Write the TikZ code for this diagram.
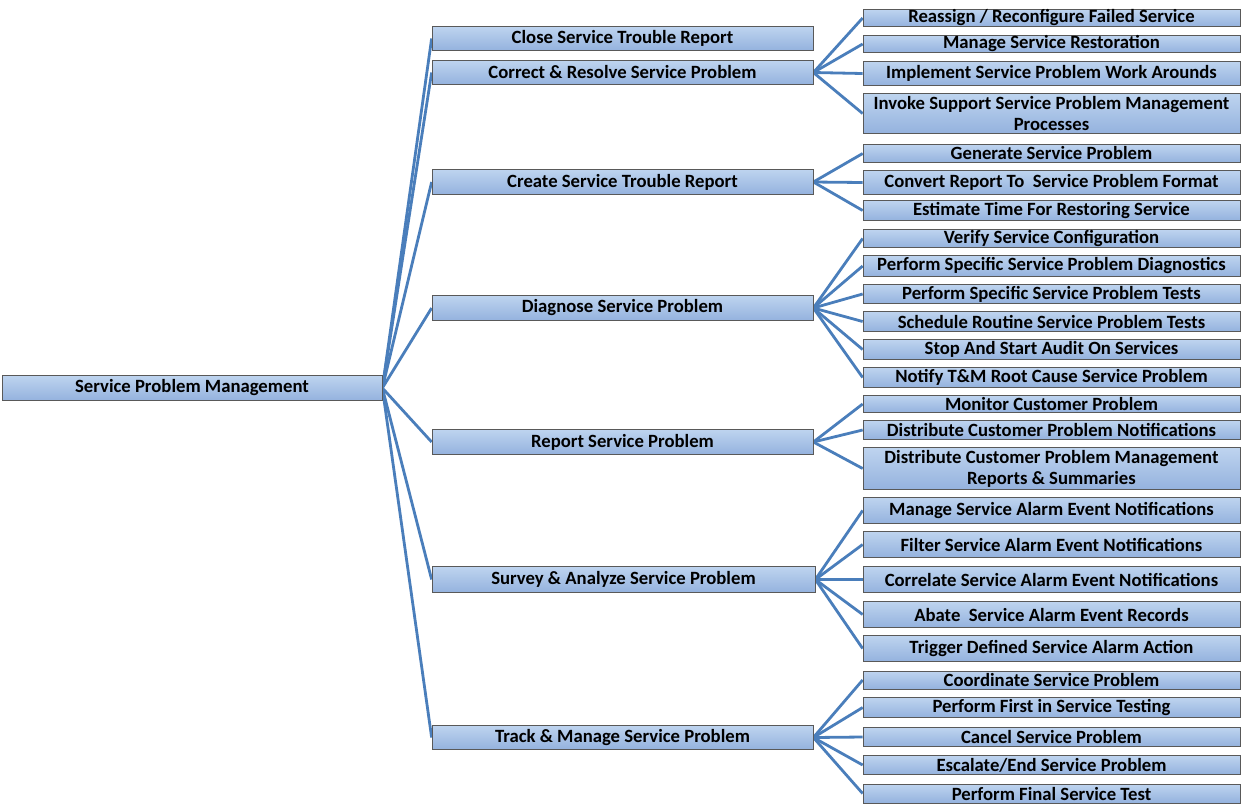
\documentclass[tikz,border=0pt]{standalone}
\usepackage{fontspec}
\setmainfont{Carlito}
\usetikzlibrary{backgrounds}
\begin{document}
\begin{tikzpicture}[x=1pt,y=-1pt,
  box/.style={draw=gray!70!black, line width=0.7pt, top color=boxtop, bottom color=boxbot,
    inner sep=0pt, font=\bfseries\fontsize{18.7}{21}\selectfont, text=black, align=center},
  lone/.style={box, minimum width=381pt},
  ltwo/.style={box, minimum width=377pt},
  link/.style={draw=linkc, line width=2.8pt}]
\definecolor{boxtop}{HTML}{BED4EF}
\definecolor{boxbot}{HTML}{94B2DE}
\definecolor{linkc}{HTML}{4A7EBB}
\useasboundingbox (0,0) rectangle (1241,804);
% root
\node[box, minimum width=380pt, minimum height=25pt] (root) at (192,388) {Service Problem Management};
% level 1
\node[lone, minimum height=24pt] (a) at (622.5,38.5) {Close Service Trouble Report};
\node[lone, minimum height=24pt] (b) at (622.5,72.5) {Correct \& Resolve Service Problem};
\node[lone, minimum height=25pt] (c) at (622.5,182) {Create Service Trouble Report};
\node[lone, minimum height=25pt] (d) at (622.5,308) {Diagnose Service Problem};
\node[lone, minimum height=25pt] (e) at (622.5,442) {Report Service Problem};
\node[box, minimum width=383pt, minimum height=26pt] (f) at (623.5,579.5) {Survey \& Analyze Service Problem};
\node[lone, minimum height=24pt] (g) at (622.5,737.5) {Track \& Manage Service Problem};
% level 2
\node[ltwo, minimum height=17pt] (b1) at (1051.5,18) {Reassign / Reconfigure Failed Service};
\node[ltwo, minimum height=17pt] (b2) at (1051.5,44) {Manage Service Restoration};
\node[ltwo, minimum height=24pt] (b3) at (1051.5,73.5) {Implement Service Problem Work Arounds};
\node[ltwo, minimum height=40pt] (b4) at (1051.5,113.5) {Invoke Support Service Problem Management\\Processes};
\node[ltwo, minimum height=18pt] (c1) at (1051.5,153.5) {Generate Service Problem};
\node[ltwo, minimum height=24pt] (c2) at (1051.5,182.5) {Convert Report To\ \ Service Problem Format};
\node[ltwo, minimum height=20pt] (c3) at (1051.5,210.5) {Estimate Time For Restoring Service};
\node[ltwo, minimum height=18pt] (d1) at (1051.5,238.5) {Verify Service Configuration};
\node[ltwo, minimum height=21pt] (d2) at (1051.5,266) {Perform Specific Service Problem Diagnostics};
\node[ltwo, minimum height=19pt] (d3) at (1051.5,294) {Perform Specific Service Problem Tests};
\node[ltwo, minimum height=20pt] (d4) at (1051.5,321.5) {Schedule Routine Service Problem Tests};
\node[ltwo, minimum height=20pt] (d5) at (1051.5,349.5) {Stop And Start Audit On Services};
\node[ltwo, minimum height=20pt] (d6) at (1051.5,377.5) {Notify T\&M Root Cause Service Problem};
\node[ltwo, minimum height=17pt] (e1) at (1051.5,404) {Monitor Customer Problem};
\node[ltwo, minimum height=19pt] (e2) at (1051.5,430) {Distribute Customer Problem Notifications};
\node[ltwo, minimum height=42pt] (e3) at (1051.5,468.5) {Distribute Customer Problem Management\\Reports \& Summaries};
\node[ltwo, minimum height=26pt] (f1) at (1051.5,510.5) {Manage Service Alarm Event Notifications};
\node[ltwo, minimum height=26pt] (f2) at (1051.5,544.5) {Filter Service Alarm Event Notifications};
\node[ltwo, minimum height=26pt] (f3) at (1051.5,579.5) {Correlate Service Alarm Event Notifications};
\node[ltwo, minimum height=26pt] (f4) at (1051.5,614.5) {Abate\ \ Service Alarm Event Records};
\node[ltwo, minimum height=26pt] (f5) at (1051.5,648.5) {Trigger Defined Service Alarm Action};
\node[ltwo, minimum height=18pt] (g1) at (1051.5,680) {Coordinate Service Problem};
\node[ltwo, minimum height=20pt] (g2) at (1051.5,707.5) {Perform First in Service Testing};
\node[ltwo, minimum height=19pt] (g3) at (1051.5,737) {Cancel Service Problem};
\node[ltwo, minimum height=19pt] (g4) at (1051.5,765) {Escalate/End Service Problem};
\node[ltwo, minimum height=19pt] (g5) at (1051.5,793.5) {Perform Final Service Test};
% connectors
\begin{scope}[on background layer]
\foreach \n in {a,b,c,d,e,f,g} \draw[link] (root.east) -- (\n.west);
\foreach \n in {b1,b2,b3,b4} \draw[link] (b.east) -- (\n.west);
\foreach \n in {c1,c2,c3} \draw[link] (c.east) -- (\n.west);
\foreach \n in {d1,d2,d3,d4,d5,d6} \draw[link] (d.east) -- (\n.west);
\foreach \n in {e1,e2,e3} \draw[link] (e.east) -- (\n.west);
\foreach \n in {f1,f2,f3,f4,f5} \draw[link] (f.east) -- (\n.west);
\foreach \n in {g1,g2,g3,g4,g5} \draw[link] (g.east) -- (\n.west);
\end{scope}
\end{tikzpicture}
\end{document}
